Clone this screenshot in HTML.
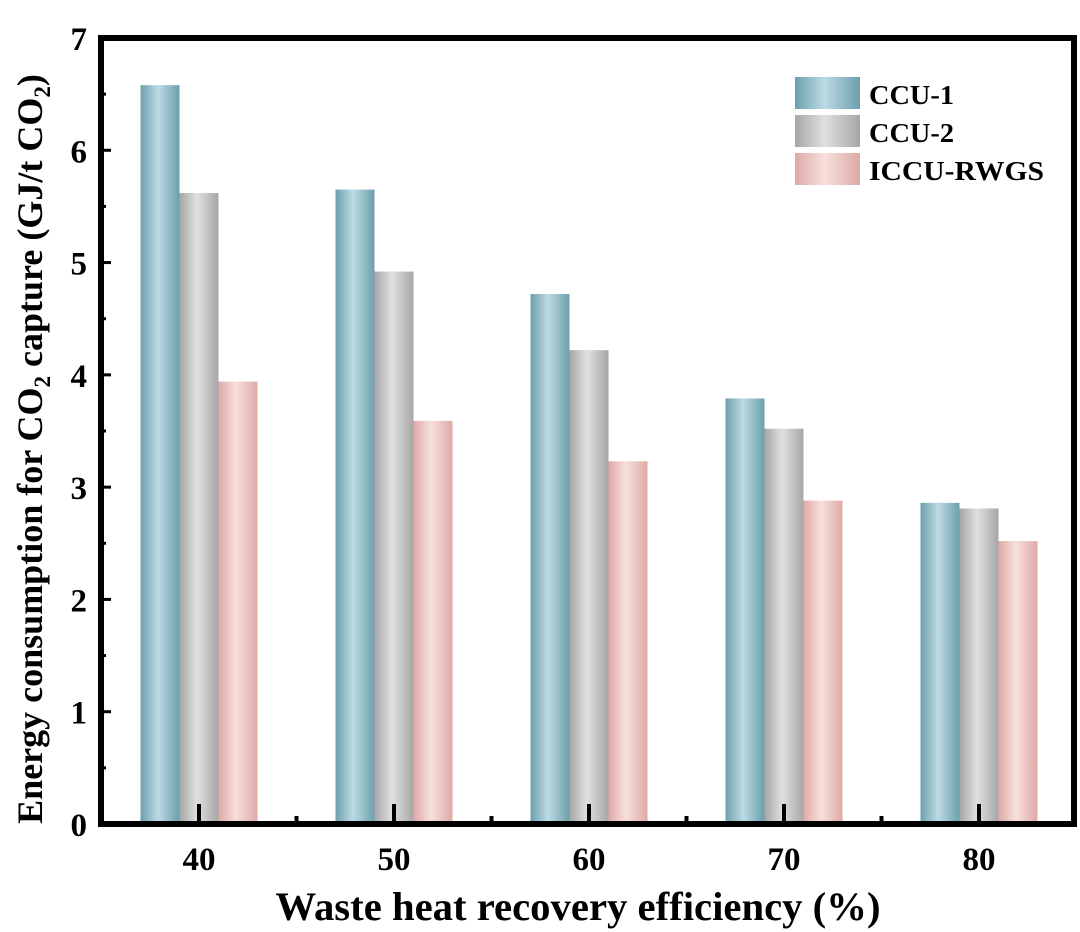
<!DOCTYPE html>
<html><head><meta charset="utf-8"><style>
html,body{margin:0;padding:0;background:#fff;}
svg{display:block;font-family:"Liberation Serif",serif;font-weight:bold;}
</style></head><body>
<svg id="chart" width="1080" height="932" viewBox="0 0 1080 932" xmlns="http://www.w3.org/2000/svg">
<defs>
<linearGradient id="g0" x1="0" x2="1" y1="0" y2="0"><stop offset="0" stop-color="#6c9fad"/><stop offset="0.45" stop-color="#bcdbe3"/><stop offset="1" stop-color="#6c9fad"/></linearGradient>
<linearGradient id="g1" x1="0" x2="1" y1="0" y2="0"><stop offset="0" stop-color="#a6a6a6"/><stop offset="0.45" stop-color="#e0e0e0"/><stop offset="1" stop-color="#a6a6a6"/></linearGradient>
<linearGradient id="g2" x1="0" x2="1" y1="0" y2="0"><stop offset="0" stop-color="#dfa9a6"/><stop offset="0.45" stop-color="#f7e0dc"/><stop offset="1" stop-color="#dfa9a6"/></linearGradient>
</defs>
<g id="bars"></g>
<g id="axes"></g>
<text x="578" y="920" text-anchor="middle" font-size="40" textLength="605" lengthAdjust="spacingAndGlyphs">Waste heat recovery efficiency (%)</text>
<text transform="translate(42,449) rotate(-90)" text-anchor="middle" font-size="36">Energy consumption for CO<tspan font-size="23" dy="8">2</tspan><tspan dy="-8"> capture (GJ/t CO</tspan><tspan font-size="23" dy="8">2</tspan><tspan dy="-8">)</tspan></text>
<g>
<rect x="795" y="77" width="65" height="32" fill="url(#g0)"/>
<text x="869" y="104" font-size="27" textLength="85" lengthAdjust="spacingAndGlyphs">CCU-1</text>
<rect x="795" y="115" width="65" height="32" fill="url(#g1)"/>
<text x="869" y="142" font-size="27" textLength="85" lengthAdjust="spacingAndGlyphs">CCU-2</text>
<rect x="795" y="153" width="65" height="32" fill="url(#g2)"/>
<text x="869" y="180" font-size="27" textLength="175" lengthAdjust="spacingAndGlyphs">ICCU-RWGS</text>
</g>
</svg>
<script>
const categories = [40, 50, 60, 70, 80];
const ccu1 = [6.58, 5.65, 4.72, 3.79, 2.86];
const ccu2 = [5.62, 4.92, 4.22, 3.52, 2.81];
const iccu = [3.94, 3.59, 3.23, 2.88, 2.52];
const yTicks = [0, 1, 2, 3, 4, 5, 6, 7];
const NS = 'http://www.w3.org/2000/svg';
const L = 101, R = 1074, T = 38, B = 824;
function xs(v){ return 101.5 + (v - 35) * 19.5; }
function ys(v){ return B - v * (B - T) / 7; }
const BW = 39;
const bars = document.getElementById('bars');
const series = [ccu1, ccu2, iccu];
const names = ['ccu-1','ccu-2','iccu-rwgs'];
series.forEach((s, si) => {
  s.forEach((v, i) => {
    const r = document.createElementNS(NS, 'rect');
    const cx = xs(categories[i]) + (si - 1) * BW;
    r.setAttribute('x', cx - BW/2);
    r.setAttribute('y', ys(v));
    r.setAttribute('width', BW);
    r.setAttribute('height', ys(0) - ys(v));
    r.setAttribute('fill', 'url(#g' + si + ')');
    
    
    bars.appendChild(r);
  });
});
const ax = document.getElementById('axes');
function line(x1,y1,x2,y2,w,name){
  const l = document.createElementNS(NS,'line');
  l.setAttribute('x1',x1);l.setAttribute('y1',y1);l.setAttribute('x2',x2);l.setAttribute('y2',y2);
  l.setAttribute('stroke','#000');l.setAttribute('stroke-width',w);
  
  
  ax.appendChild(l);
}
function text(x,y,s,anchor,name){
  const t = document.createElementNS(NS,'text');
  t.setAttribute('x',x);t.setAttribute('y',y);t.setAttribute('text-anchor',anchor);
  t.setAttribute('font-size','33');t.textContent = s;
  
  
  ax.appendChild(t);
}
const fr = document.createElementNS(NS,'rect');
fr.setAttribute('x',L);fr.setAttribute('y',T);fr.setAttribute('width',R-L);fr.setAttribute('height',B-T);
fr.setAttribute('fill','none');fr.setAttribute('stroke','#000');fr.setAttribute('stroke-width','6');


ax.appendChild(fr);
yTicks.forEach(v => {
  line(L, ys(v), L + 10, ys(v), 3, 'y-tick');
  if (v < 7) line(L, ys(v + 0.5), L + 5, ys(v + 0.5), 3, 'y-minor-tick');
  text(L - 14, ys(v) + 12, String(v), 'end', 'y-tick-label');
});
categories.forEach((c, i) => {
  line(xs(c), B, xs(c), B - 20, 4, 'x-tick');
  if (i < categories.length - 1) line(xs(c + 5), B, xs(c + 5), B - 8, 4, 'x-minor-tick');
  text(xs(c), 870, String(c), 'middle', 'x-tick-label');
});
</script>
</body></html>
